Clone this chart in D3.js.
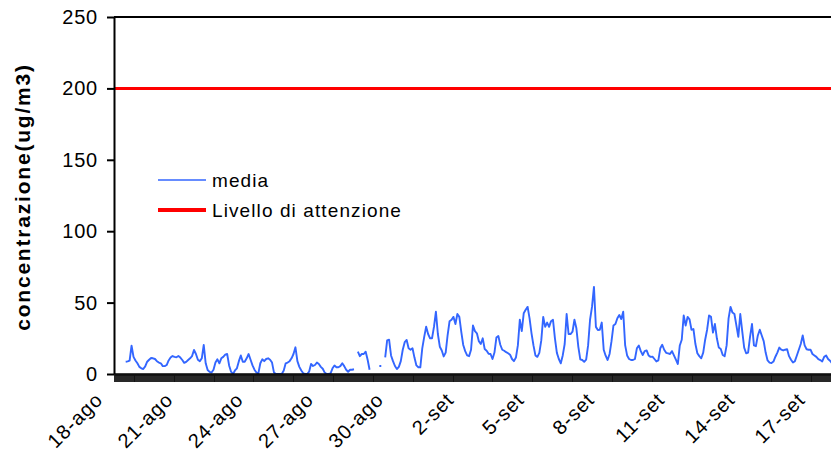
<!DOCTYPE html>
<html><head><meta charset="utf-8">
<script src="https://cdn.jsdelivr.net/npm/d3@7"></script>
<style>body{margin:0;background:#fff}</style>
</head><body><svg id="chart" width="831" height="461"></svg>
<script>
// ---- data ----
const axisStart = "2008-08-18 00:00";
const axisEnd = "2008-09-17 15:00";
const seriesStart = "2008-08-18 12:00";
const stepHours = 2;
const media = [
8.6,8.8,9.3,19.8,12,9.5,7.5,5,4,3.5,5.3,8.6,10,11.2,11,10.5,9,8,7.5,5.5,
5.5,6.3,9.5,11.5,12.6,12,11.7,12.6,11.5,9.8,7.8,8.5,9.8,11,12.5,16.8,14,10,9,11,
20.3,7.5,2.8,1.5,1,3,8,10.3,7.5,11,12,13.5,14,6,1.6,0,2.5,4,9,13,
8.6,8.6,11,14,10,6,3,1,0.5,7.5,10.3,9,10.5,11,10,8,1,0,0,0,
0,2.5,7.5,8,9,11,14,18.7,9,5,2.5,0.5,0,0,1.6,7,5.6,6.3,8,7,
5,3.7,1,0,0,0.5,4,6,4.7,4.7,5.5,7.5,5.5,3,1.6,3,3,3.3,null,15.6,
12.5,14,14,15.6,10,3,null,null,null,null,5.6,5.6,null,11.7,23.5,24,13,9,5.6,3.5,
5,9,17,22.3,23.8,18,17,18,11.5,6,4.7,4.7,18,26,33.1,28,25,25,33,43.6,
28,19.1,16.5,12.3,15,27.3,37,38,40,35,42,40,29.5,20.3,16,13,12.5,17,34,30,
28.5,23,21,25,17.5,16.3,14.2,14,10.5,15,25.5,26.6,20.5,17,16.3,15.3,14.5,13.5,10.5,9,
11.5,20,38,30,42.5,45,47,39,28.5,20,13,12,14.8,23.5,40,33,36,33,37,38,
25,14.8,10.5,7.5,13,21,42,28,28,29.6,38,32,19,10.3,9.8,8.5,10,20,38,47,
61,33,30.8,31,36,17,12.8,9.8,14,23,34,35,39,41.3,38.5,43.6,20,13,10.5,9.8,
9.8,10.5,18,20,16,13.3,16,16.5,13,12,12.2,10.5,8.8,9.5,18,20.5,17,14.8,14.4,14,
16,13,10,7,20,24,41,34,40,38.3,31,31.5,21,14.5,12.5,11,15,24,31,41,
40,29,35,25,18.5,17.5,13.3,12.5,20,39,47,43,42,34,26,42,30,18.5,14.5,15,
26,35,20,19.5,27,31,27,23,15,9.5,8,7.7,8.7,12.1,15,18.5,17,16.5,17,17.3,
12.5,10,8,9,13,17,21,27,20,17.3,17,17,14,13,12,10.4,9.8,8.8,12,13,
10.5,9.3,7.5
];
const attentionLevel = 200;
const yTicks = [0, 50, 100, 150, 200, 250];
const xLabelDates = ["2008-08-18","2008-08-21","2008-08-24","2008-08-27","2008-08-30",
  "2008-09-02","2008-09-05","2008-09-08","2008-09-11","2008-09-14","2008-09-17"];
const xLabels = ["18-ago","21-ago","24-ago","27-ago","30-ago","2-set","5-set","8-set","11-set","14-set","17-set"];
const legendLabels = ["media", "Livello di attenzione"];
const yTitle = "concentrazione(ug/m3)";

// ---- drawing ----
(function () {
const W = 831, H = 461;
const mLeft = 114, mTop = 17, mBottom = 374, mRight = 831;
const parseDT = d3.timeParse("%Y-%m-%d %H:%M");
const parseD = d3.timeParse("%Y-%m-%d");
const t0 = parseDT(axisStart), t1 = parseDT(axisEnd), s0 = parseDT(seriesStart);

const x = d3.scaleTime().domain([t0, t1]).range([mLeft, mRight]);
const y = d3.scaleLinear().domain([0, 250]).range([mBottom, mTop]);

const svg = d3.select("#chart");
svg.append("rect").attr("width", W).attr("height", H).attr("fill", "#fff");

const font = "'Liberation Sans', Arial, sans-serif";

const pts = media.map((v, i) => ({t: d3.timeHour.offset(s0, i * stepHours), v}));

// plot border (top)
svg.append("line").attr("x1", mLeft).attr("x2", mRight + 5).attr("y1", y(250)).attr("y2", y(250))
  .attr("stroke", "#000").attr("stroke-width", 2);

// attention level line
svg.append("line").attr("x1", mLeft).attr("x2", mRight + 5)
  .attr("y1", y(attentionLevel)).attr("y2", y(attentionLevel))
  .attr("stroke", "#ff0000").attr("stroke-width", 3);

// media line
const line = d3.line().defined(d => d.v !== null).x(d => x(d.t)).y(d => y(d.v));
svg.append("path").datum(pts).attr("d", line).attr("fill", "none")
  .attr("stroke", "#3366ff").attr("stroke-width", 1.9).attr("stroke-linejoin", "round");

// y axis
const yAxis = d3.axisLeft(y).tickValues(yTicks).tickSize(7).tickSizeOuter(0).tickPadding(9);
const gy = svg.append("g").attr("transform", `translate(${mLeft},0)`).call(yAxis);
gy.select(".domain").attr("stroke", "#000").attr("stroke-width", 2);
gy.selectAll(".tick line").attr("stroke", "#000").attr("stroke-width", 2);
gy.selectAll(".tick text").attr("font-family", font).attr("font-size", 20).attr("fill", "#000")
  .attr("letter-spacing", 0.8);

// x axis with hourly tick marks
const hours = d3.timeHour.range(t0, t1);
const xAxis = d3.axisBottom(x).tickValues(hours).tickSize(8).tickSizeOuter(0).tickFormat("");
const gx = svg.append("g").attr("transform", `translate(0,${mBottom})`).call(xAxis);
gx.select(".domain").attr("stroke", "#000").attr("stroke-width", 2.5);
gx.selectAll(".tick line").attr("stroke", "#111").attr("stroke-width", 0.9)
  .attr("shape-rendering", "crispEdges");

// x labels
svg.append("g").selectAll("text").data(xLabelDates).join("text")
  .attr("transform", d => `translate(${x(parseD(d)) - 10},${mBottom + 27}) rotate(-45)`)
  .attr("text-anchor", "end")
  .attr("font-family", font).attr("font-size", 20).attr("letter-spacing", 1).attr("fill", "#000")
  .text((d, i) => xLabels[i]);

// y title
svg.append("text").attr("transform", `translate(30,197) rotate(-90)`)
  .attr("text-anchor", "middle").attr("font-family", font).attr("font-weight", "bold")
  .attr("font-size", 21).attr("letter-spacing", 1.8).text(yTitle);

// legend
const legend = svg.append("g");
const legColors = ["#3366ff", "#ff0000"], legWidths = [1.6, 4];
legendLabels.forEach((lab, i) => {
  const ly = 180 + i * 30;
  legend.append("line").attr("x1", 158).attr("x2", 206).attr("y1", ly).attr("y2", ly)
    .attr("stroke", legColors[i]).attr("stroke-width", legWidths[i]);
  legend.append("text").attr("x", 212).attr("y", ly + 7).attr("font-family", font)
    .attr("font-size", 19).attr("letter-spacing", 1.1).attr("fill", "#000").text(lab);
});
})();
</script></body></html>
